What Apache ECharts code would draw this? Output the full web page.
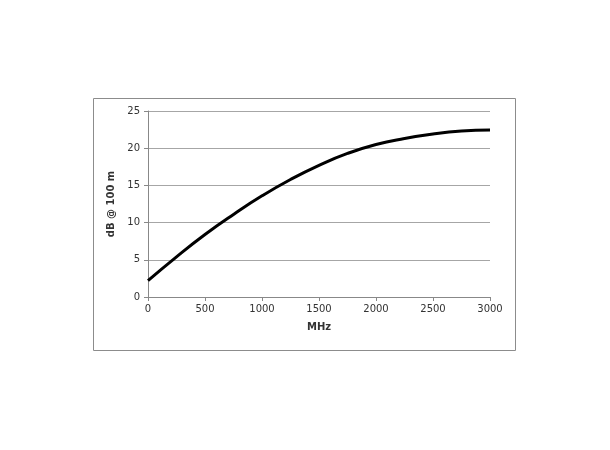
<!DOCTYPE html>
<html><head><meta charset="utf-8">
<script src="https://cdn.jsdelivr.net/npm/echarts@6/dist/echarts.min.js"></script>
<style>html,body{margin:0;padding:0;background:#fff}#c{width:610px;height:450px}</style>
</head><body><div id="c"></div>
<script>
var freqMHz = [0, 250, 500, 750, 1000, 1250, 1500, 1750, 2000, 2250, 2500, 2750, 3000];
var attenuation = [2.2, 5.4, 8.4, 11.1, 13.6, 15.8, 17.7, 19.3, 20.5, 21.3, 21.9, 22.3, 22.45];
var xTitle = 'MHz';
var yTitle = 'dB @ 100 m';

var chart = echarts.init(document.getElementById('c'));
var font = 'DejaVu Sans';
chart.setOption({
  animation: false,
  graphic: [{type:'rect', shape:{x:93.5,y:98.5,width:422,height:252}, style:{fill:'none',stroke:'#8c8c8c',lineWidth:1}, z:-1}],
  grid: {left:148, right:120, top:111, bottom:153},
  xAxis: {
    type:'value', min:0, max:3000, interval:500,
    name:xTitle, nameLocation:'middle', nameGap:25,
    nameTextStyle:{fontFamily:font, fontWeight:'bold', fontSize:10, color:'#333'},
    axisLine:{lineStyle:{color:'#888'}},
    axisTick:{show:true, length:4, lineStyle:{color:'#888'}},
    axisLabel:{fontFamily:font, fontSize:10, color:'#333', margin:7, formatter:function(v){return String(v);}},
    splitLine:{show:false}
  },
  yAxis: {
    type:'value', min:0, max:25, interval:5,
    name:yTitle, nameLocation:'middle', nameGap:30, nameRotate:90,
    nameTextStyle:{fontFamily:font, fontWeight:'bold', fontSize:10, color:'#333'},
    axisLine:{show:true, lineStyle:{color:'#888'}},
    axisTick:{show:true, length:4, lineStyle:{color:'#888'}},
    axisLabel:{fontFamily:font, fontSize:10, color:'#333', margin:8},
    splitLine:{lineStyle:{color:'#a6a6a6'}}
  },
  series: [{
    type:'line', smooth:true, showSymbol:false,
    data: freqMHz.map(function(f,i){return [f, attenuation[i]];}),
    lineStyle:{color:'#000', width:3}
  }]
});
</script></body></html>
